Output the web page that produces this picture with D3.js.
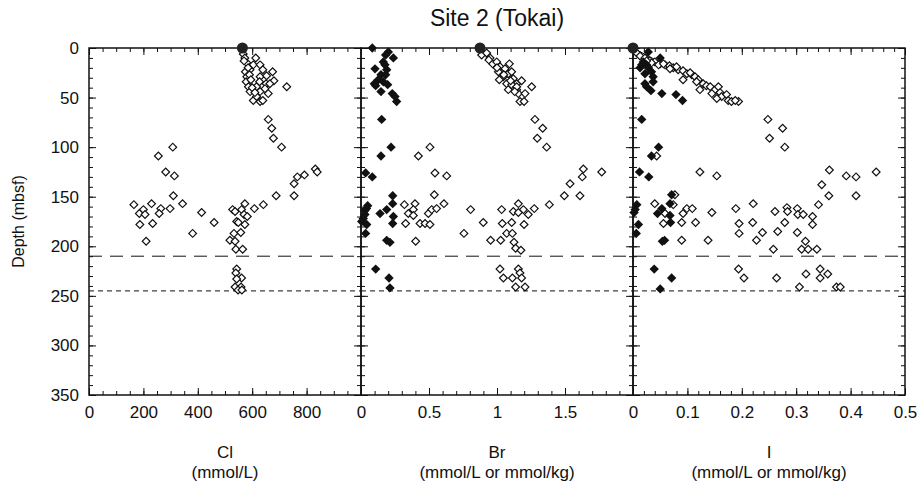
<!DOCTYPE html>
<html>
<head>
<meta charset="utf-8">
<script src="https://cdnjs.cloudflare.com/ajax/libs/d3/7.8.5/d3.min.js"></script>
<style>
  body { margin: 0; background: #fff; }
  svg text { font-family: "Liberation Sans Narrow", "Liberation Sans", Arial, sans-serif; fill: #111; }
</style>
</head>
<body>
<svg width="919" height="482"></svg>
<script>
// ---- data (value, depth in mbsf) ----
const clSeawater = [[564, 0]];
const clOpen = [
  [567,6],[573,10],[613,10],[580,15],[604,17],[629,17],[575,24],[592,22],[639,22],[675,24],
  [580,29],[629,29],[653,28],[578,34],[627,34],[651,36],[680,33],[586,39],[616,39],[665,36],
  [727,39],[592,44],[629,44],[659,46],[604,53],[629,54],[639,53],[616,49],[647,41],
  [570,13],[585,20],[590,27],[595,32],[600,40],[610,45],
  [659,72],[672,81],[678,91],[708,100],
  [308,100],[255,109],[282,125],[314,129],[310,149],[165,158],[200,163],[185,167],[206,168],
  [230,157],[264,162],[258,167],[298,162],[344,157],[414,166],[460,176],[187,178],[234,177],
  [381,187],[210,195],
  [573,157],[528,163],[537,165],[561,163],[570,168],[582,170],[543,175],[573,178],[549,176],
  [533,187],[558,186],[518,194],[537,195],[540,203],[565,203],[608,162],[641,158],[688,149],
  [754,149],[754,137],[766,130],[792,128],[832,122],[839,125],
  [543,223],[540,227],[561,232],[543,233],[537,241],[559,241],[548,244],[562,244]
];
const clFilled = [];

const brSeawater = [[0.875, 0]];
const brOpen = [
  [0.887,7],[0.924,5],[0.949,10],[0.968,16],[0.998,14],[1.022,19],[1.01,24],[1.059,21],
  [1.091,16],[1.083,26],[1.047,29],[1.108,24],[1.017,32],[1.12,31],[1.071,36],[1.145,36],
  [1.181,33],[1.083,42],[1.145,42],[1.157,46],[1.206,46],[1.169,54],[1.199,54],[1.255,39],
  [1.108,37],[1.145,39],[0.94,12],[1.0,20],[1.05,27],[1.1,33],[1.13,44],
  [1.279,72],[1.336,81],[1.296,91],[1.365,100],
  [1.635,122],[1.627,130],[1.77,125],[1.537,137],[1.495,149],[1.61,149],[1.385,158],[1.274,162],
  [1.157,157],[1.194,163],[1.12,165],[1.157,166],[1.23,168],[1.034,163],[0.806,163],[0.899,176],
  [1.039,177],[1.108,176],[1.199,178],[0.757,187],[1.071,187],[1.113,187],[0.953,194],[1.027,194],
  [1.125,196],[1.137,202],[1.176,204],
  [0.507,100],[0.422,109],[0.544,126],[0.63,129],[0.539,148],[0.319,158],[0.397,157],[0.385,163],
  [0.348,167],[0.385,169],[0.495,167],[0.52,163],[0.556,162],[0.61,157],[0.328,177],[0.434,177],
  [0.471,177],[0.507,178],[0.402,195],
  [1.022,223],[1.047,232],[1.113,232],[1.157,223],[1.169,227],[1.181,232],[1.137,241],[1.206,241]
];
const brFilled = [
  [0.083,0],[0.201,4],[0.181,7],[0.238,10],[0.164,14],[0.176,17],[0.103,21],[0.189,22],[0.147,27],
  [0.127,32],[0.181,27],[0.164,34],[0.196,37],[0.098,36],[0.108,38],[0.147,44],[0.23,46],[0.25,49],
  [0.262,54],[0.152,72],[0.221,100],[0.147,109],[0.034,126],[0.083,130],[0.233,149],[0.049,159],
  [0.029,164],[0.017,172],[0.005,175],[0.14,167],[0.189,163],[0.233,157],[0.238,170],[0.233,177],
  [0.042,178],[0.034,187],[0.189,194],[0.213,196],[0.029,168],[0.04,162],
  [0.108,223],[0.206,232],[0.213,242]
];

const iSeawater = [[0, 0]];
const iOpen = [
  [0.007,5],[0.013,8],[0.022,10],[0.031,13],[0.040,14],[0.050,16],[0.059,17],[0.067,18],[0.074,20],
  [0.083,22],[0.092,23],[0.099,26],[0.108,27],[0.114,29],[0.120,32],[0.092,32],[0.123,42],[0.129,36],
  [0.135,38],[0.142,39],[0.151,42],[0.157,39],[0.160,45],[0.163,49],[0.172,47],[0.175,53],[0.181,54],
  [0.194,54],[0.188,53],[0.117,34],[0.105,25],[0.080,19],[0.068,21],[0.047,17],[0.034,15],[0.025,13],
  [0.056,16],[0.145,46],[0.154,51],
  [0.248,72],[0.275,81],[0.251,91],[0.279,100],
  [0.0435,109],[0.123,125],[0.154,129],[0.077,148],[0.040,157],[0.074,158],[0.056,177],[0.059,167],
  [0.092,167],[0.099,162],[0.109,162],[0.0895,176],[0.115,176],[0.145,166],[0.0895,194],[0.138,194],
  [0.189,162],[0.195,177],[0.195,187],[0.221,157],[0.220,176],[0.238,186],[0.227,194],[0.261,165],
  [0.283,161],[0.284,165],[0.266,185],[0.279,176],[0.302,162],[0.303,168],[0.313,168],[0.302,186],
  [0.317,195],[0.330,170],[0.330,178],[0.341,158],[0.347,138],[0.361,123],[0.360,149],[0.392,129],
  [0.410,130],[0.410,149],[0.447,125],[0.258,203],[0.310,203],[0.322,203],[0.338,203],
  [0.194,223],[0.204,232],[0.264,232],[0.318,228],[0.344,223],[0.344,232],[0.358,228],[0.306,241],
  [0.374,241],[0.381,241]
];
const iFilled = [
  [0.028,4],[0.05,10],[0.019,14],[0.025,17],[0.013,20],[0.022,26],[0.034,24],[0.037,29],[0.037,34],
  [0.022,36],[0.025,39],[0.033,43],[0.053,46],[0.079,47],[0.091,53],[0.016,17],[0.028,20],
  [0.016,72],[0.047,100],[0.034,109],[0.012,125],[0.029,130],[0.071,148],[0.007,158],[0.004,163],
  [0.002,166],[0.045,167],[0.053,162],[0.068,157],[0.068,169],[0.069,176],[0.010,178],[0.006,187],
  [0.054,195],[0.058,194],
  [0.039,223],[0.071,232],[0.05,243]
];

// short lines from seawater value into the shallow samples
const clLine = [[564,0],[576,12]];
const brLine = [[0.875,0],[0.98,14]];
const iLine = [[0,0],[0.045,13]];

const depthTicks = [0,50,100,150,200,250,300,350];
const clTicks = [0,200,400,600,800];
const brTicks = [0,0.5,1,1.5];
const iTicks = [0,0.1,0.2,0.3,0.4,0.5];
const refDepths = [210, 245];

const panels = [
  {name: "Cl", unit: "(mmol/L)", domain: [0,1000], ticks: clTicks, minor: 50, open: clOpen, filled: clFilled, sw: clSeawater, line: clLine},
  {name: "Br", unit: "(mmol/L or mmol/kg)", domain: [0,2], ticks: brTicks, minor: 0.1, open: brOpen, filled: brFilled, sw: brSeawater, line: brLine},
  {name: "I", unit: "(mmol/L or mmol/kg)", domain: [0,0.5], ticks: iTicks, minor: 0.02, open: iOpen, filled: iFilled, sw: iSeawater, line: iLine}
];

// ---- layout ----
const mLeft = 89, mRight = 905, mTop = 48, mBottom = 395;
const pw = (mRight - mLeft) / panels.length;

const svg = d3.select("svg");
const y = d3.scaleLinear().domain([0, 350]).range([mTop, mBottom]);

svg.append("text")
  .attr("x", (mLeft + mRight) / 2).attr("y", 26)
  .attr("text-anchor", "middle").style("font-size", "23px")
  .text("Site 2 (Tokai)");

svg.append("text")
  .attr("transform", `translate(24,${(mTop + mBottom) / 2}) rotate(-90)`)
  .attr("text-anchor", "middle").style("font-size", "16px")
  .text("Depth (mbsf)");

const diamond = s => d3.symbol(d3.symbolSquare, s)();
const minorRange = (dom, step) => d3.range(Math.round((dom[1] - dom[0]) / step) + 1).map(i => dom[0] + i * step);

panels.forEach((p, i) => {
  const x0 = mLeft + i * pw, x1 = x0 + pw;
  const x = d3.scaleLinear().domain(p.domain).range([x0, x1]);
  const g = svg.append("g");

  // minor + major ticks, pointing inward, on all four sides
  const xMinor = minorRange(p.domain, p.minor);
  const yMinor = d3.range(0, 351, 10);
  g.append("g").attr("transform", `translate(0,${mBottom})`)
    .call(d3.axisBottom(x).tickValues(xMinor).tickSize(-4).tickFormat(""));
  g.append("g").attr("transform", `translate(0,${mTop})`)
    .call(d3.axisTop(x).tickValues(xMinor).tickSize(-4).tickFormat(""));
  g.append("g").attr("transform", `translate(0,${mBottom})`)
    .call(d3.axisBottom(x).tickValues(p.ticks).tickSize(-7).tickPadding(11).tickFormat(d3.format("")));
  g.append("g").attr("transform", `translate(0,${mTop})`)
    .call(d3.axisTop(x).tickValues(p.ticks).tickSize(-7).tickFormat(""));
  g.append("g").attr("transform", `translate(${x0},0)`)
    .call(d3.axisLeft(y).tickValues(yMinor).tickSize(-4).tickFormat(""));
  g.append("g").attr("transform", `translate(${x1},0)`)
    .call(d3.axisRight(y).tickValues(yMinor).tickSize(-4).tickFormat(""));
  g.append("g").attr("transform", `translate(${x0},0)`)
    .call(d3.axisLeft(y).tickValues(depthTicks).tickSize(-7).tickPadding(10).tickFormat(i === 0 ? d3.format("") : ""));
  g.append("g").attr("transform", `translate(${x1},0)`)
    .call(d3.axisRight(y).tickValues(depthTicks).tickSize(-7).tickFormat(""));

  g.selectAll(".domain").remove();
  g.selectAll(".tick line").attr("stroke", "#111").attr("stroke-width", 1);
  g.selectAll(".tick text").style("font-size", "17px").attr("fill", "#111");

  g.append("rect")
    .attr("x", x0).attr("y", mTop).attr("width", pw).attr("height", mBottom - mTop)
    .attr("fill", "none").attr("stroke", "#111").attr("stroke-width", 1.5);

  // reference depths
  g.selectAll(".ref").data(refDepths).join("line")
    .attr("x1", x0).attr("x2", x1)
    .attr("y1", d => y(d)).attr("y2", d => y(d))
    .attr("stroke", "#111").attr("stroke-width", 1)
    .attr("stroke-dasharray", (d, k) => k === 0 ? "13,8" : "5,4");

  // seawater line
  g.append("path")
    .attr("d", d3.line().x(d => x(d[0])).y(d => y(d[1]))(p.line))
    .attr("fill", "none").attr("stroke", "#111").attr("stroke-width", 1);

  g.selectAll(".open").data(p.open).join("path")
    .attr("d", diamond(30))
    .attr("transform", d => `translate(${x(d[0])},${y(d[1])}) rotate(45)`)
    .attr("fill", "#fff").attr("stroke", "#111").attr("stroke-width", 1.2);

  g.selectAll(".filled").data(p.filled).join("path")
    .attr("d", diamond(44))
    .attr("transform", d => `translate(${x(d[0])},${y(d[1])}) rotate(45)`)
    .attr("fill", "#111");

  g.selectAll(".sw").data(p.sw).join("circle")
    .attr("cx", d => x(d[0])).attr("cy", d => y(d[1])).attr("r", 5.5)
    .attr("fill", "#222");

  // axis titles
  const cx = (x0 + x1) / 2;
  svg.append("text").attr("x", cx).attr("y", 458).attr("text-anchor", "middle")
    .style("font-size", "17px").text(p.name);
  svg.append("text").attr("x", cx).attr("y", 478).attr("text-anchor", "middle")
    .style("font-size", "17px").text(p.unit);
});
</script>
</body>
</html>
